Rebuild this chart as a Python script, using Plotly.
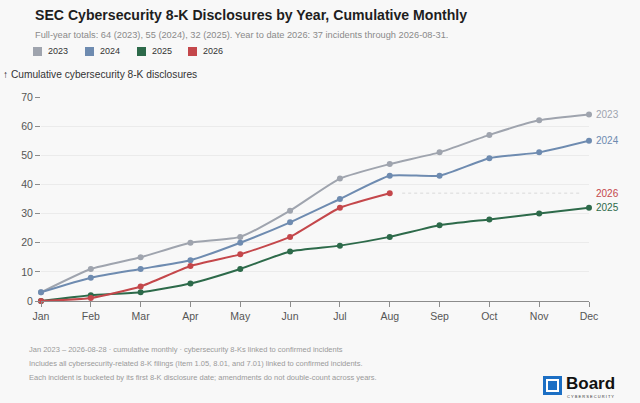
import plotly.graph_objects as go

months = ["Jan", "Feb", "Mar", "Apr", "May", "Jun", "Jul", "Aug", "Sep", "Oct", "Nov", "Dec"]
years = ["2023", "2024", "2025", "2026"]
y2023 = [3, 11, 15, 20, 22, 31, 42, 47, 51, 57, 62, 64]
y2024 = [3, 8, 11, 14, 20, 27, 35, 43, 43, 49, 51, 55]
y2025 = [0, 2, 3, 6, 11, 17, 19, 22, 26, 28, 30, 32]
y2026 = [0, 1, 5, 12, 16, 22, 32, 37]
colors = ["#9fa4ae", "#6e8bb0", "#2d6a4a", "#c4474b"]
y_ticks = [0, 10, 20, 30, 40, 50, 60, 70]

FONT = "Liberation Sans, Arial, sans-serif"
BG = "#f8f8f8"

# pixel frame of the plot area (640x403 page)
L, R, T, B = 41, 589, 97, 301


def px(x):
    return (x - L) / (R - L)


def py(y):
    return (B - y) / (B - T)


fig = go.Figure()
series = [y2023, y2024, y2025, y2026]
xs = list(range(len(months)))

# dotted carry-forward for the partial year
fig.add_trace(go.Scatter(
    x=[7.25, 10.85], y=[y2026[-1], y2026[-1]], mode="lines",
    line=dict(color="#d9d9d9", width=1, dash="dot"),
    hoverinfo="skip", showlegend=False, cliponaxis=False))

for name, vals, col in zip(years, series, colors):
    fig.add_trace(go.Scatter(
        x=xs[:len(vals)], y=vals, name=name, mode="lines+markers",
        line=dict(color=col, width=2, shape="spline", smoothing=0.5),
        marker=dict(color=col, size=6),
        cliponaxis=False, showlegend=False))

annotations = []
# end labels
for name, vals, col in zip(years, series, colors):
    annotations.append(dict(
        x=11, y=vals[-1], xref="x", yref="y", text=name, showarrow=False,
        xanchor="left", yanchor="middle", xshift=5,
        font=dict(family=FONT, size=10, color=col)))

# title, subtitle, axis title
annotations.append(dict(
    x=px(33), y=py(15), xref="paper", yref="paper", xanchor="left", yanchor="middle",
    text="<b>SEC Cybersecurity 8-K Disclosures by Year, Cumulative Monthly</b>",
    showarrow=False, font=dict(family=FONT, size=14.1, color="#1e1e1e")))
annotations.append(dict(
    x=px(33), y=py(35), xref="paper", yref="paper", xanchor="left", yanchor="middle",
    text="Full-year totals: 64 (2023), 55 (2024), 32 (2025). Year to date 2026: 37 incidents through 2026-08-31.",
    showarrow=False, font=dict(family=FONT, size=9.25, color="#8a8a8a")))
annotations.append(dict(
    x=px(1), y=py(75), xref="paper", yref="paper", xanchor="left", yanchor="middle",
    text="↑ Cumulative cybersecurity 8-K disclosures",
    showarrow=False, font=dict(family=FONT, size=10.2, color="#333333")))

# legend
shapes = []
leg_x = [33, 85, 137, 188]
for lx, name, col in zip(leg_x, years, colors):
    shapes.append(dict(
        type="rect", xref="paper", yref="paper",
        x0=px(lx), x1=px(lx + 9), y0=py(47), y1=py(56),
        fillcolor=col, line=dict(width=0)))
    annotations.append(dict(
        x=px(lx + 13), y=py(51.5), xref="paper", yref="paper", xanchor="left", yanchor="middle",
        text=name, showarrow=False, font=dict(family=FONT, size=9, color="#333333")))

# footer notes
notes = [
    "Jan 2023 – 2026-08-28 · cumulative monthly · cybersecurity 8-Ks linked to confirmed incidents",
    "Includes all cybersecurity-related 8-K filings (Item 1.05, 8.01, and 7.01) linked to confirmed incidents.",
    "Each incident is bucketed by its first 8-K disclosure date; amendments do not double-count across years.",
]
for i, n in enumerate(notes):
    annotations.append(dict(
        x=px(27), y=py(349 + 14 * i), xref="paper", yref="paper", xanchor="left", yanchor="middle",
        text=n, showarrow=False, font=dict(family=FONT, size=7.5, color="#9a9a9a")))

# logo
blue = "#1c6fc4"
shapes.append(dict(type="rect", xref="paper", yref="paper", x0=px(543), x1=px(562), y0=py(395), y1=py(376),
                   fillcolor=blue, line=dict(width=0)))
shapes.append(dict(type="rect", xref="paper", yref="paper", x0=px(546), x1=px(559), y0=py(392), y1=py(379),
                   fillcolor="white", line=dict(width=0)))
shapes.append(dict(type="rect", xref="paper", yref="paper", x0=px(548), x1=px(557), y0=py(390), y1=py(381),
                   fillcolor=blue, line=dict(width=0)))
annotations.append(dict(
    x=px(564), y=py(383), xref="paper", yref="paper", xanchor="left", yanchor="middle",
    text="<b>Board</b>", showarrow=False, font=dict(family=FONT, size=17, color="#111111")))
annotations.append(dict(
    x=px(565), y=py(396), xref="paper", yref="paper", xanchor="left", yanchor="middle",
    text="C Y B E R S E C U R I T Y", showarrow=False, font=dict(family=FONT, size=4, color="#333333")))

fig.update_layout(
    width=640, height=403,
    margin=dict(l=L, r=640 - R, t=T, b=403 - B),
    paper_bgcolor=BG, plot_bgcolor=BG,
    font=dict(family=FONT, size=10.5, color="#555555"),
    showlegend=False,
    annotations=annotations,
    shapes=shapes,
    xaxis=dict(
        range=[0, 11], tickvals=xs, ticktext=months, showgrid=False, zeroline=False,
        showline=True, linecolor="#8c8c8c", linewidth=1,
        ticks="outside", ticklen=5, tickcolor="#8c8c8c",
        tickfont=dict(size=10.5, color="#555555")),
    yaxis=dict(
        range=[0, 70], tickvals=y_ticks, showgrid=True, gridcolor="#ebebeb", gridwidth=1,
        zeroline=False, showline=False,
        ticks="outside", ticklen=5, tickcolor="#8c8c8c",
        tickfont=dict(size=10.5, color="#555555")),
)

# page has a default body margin; drop it so the figure fills the window
fig.write_html("out.html", config={"displayModeBar": False},
               post_script="document.body.style.margin='0';document.body.style.background='%s';" % BG)
